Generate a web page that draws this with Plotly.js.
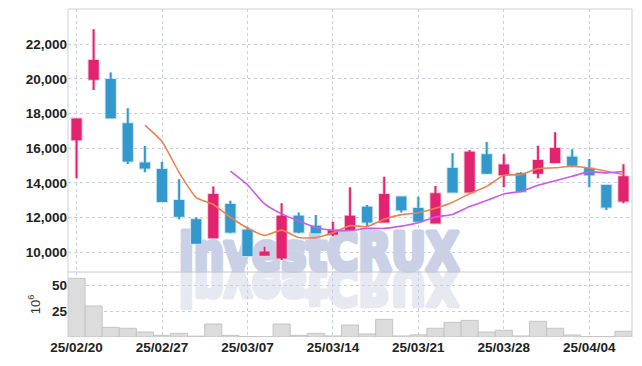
<!DOCTYPE html>
<html><head><meta charset="utf-8">
<script src="https://cdn.plot.ly/plotly-3.0.1.min.js"></script>
<style>html,body{margin:0;padding:0;background:#fff}#chart{width:642px;height:366px}</style>
</head><body><div id="chart"></div>
<script>
const dates = ["25/02/20","25/02/21","25/02/24","25/02/25","25/02/26","25/02/27","25/02/28","25/03/04","25/03/05","25/03/06","25/03/07","25/03/10","25/03/11","25/03/12","25/03/13","25/03/14","25/03/17","25/03/18","25/03/19","25/03/20","25/03/21","25/03/24","25/03/25","25/03/26","25/03/27","25/03/28","25/03/31","25/04/01","25/04/02","25/04/03","25/04/04","25/04/07","25/04/08"];
const openP  = [16520,20000,19940,17400,15130,14750,12960,11860,10870,12730,11250,9850,9690,12050,11480,11060,11330,12570,11770,13170,12500,11710,14810,13500,15610,14500,14520,14590,15210,15460,14810,13830,12980];
const highP  = [17670,22870,20380,18310,16130,15230,14210,12020,13790,12980,11480,10320,12830,12290,12150,11770,13760,12730,14360,13210,13210,13830,15710,15900,16360,15650,14620,16150,16920,15940,15380,13880,15080];
const lowP   = [14270,19360,17730,15090,14620,12960,11900,10550,10870,11100,9840,9840,9560,11100,11150,10940,11300,11520,11770,12290,11770,11710,13500,13500,14520,13750,13460,14270,15210,14900,13750,12440,12830];
const closeP = [17670,21040,17790,15290,14880,12960,12110,10550,13310,11190,9840,10000,12050,11190,11150,11250,12050,11770,13310,12480,11810,13360,13500,15750,14590,15020,13540,15270,15960,15040,14500,12630,14330];
const volume = [56.4,29.8,9.3,8.4,4.8,1.6,3.5,0.8,12.5,1.6,0.5,0.3,12.5,1.6,3.5,1.0,11.5,2.9,17.0,1.0,2.0,8.4,14.1,16.0,4.8,6.4,1.0,15.1,8.4,1.9,0.5,0.5,5.5];
const ma5  = [null,null,null,null,17334,16392,14606,13158,12762,12024,11400,10978,11278,10854,10846,11128,11538,11482,11906,12172,12284,12546,12892,13380,13802,14444,14480,14834,14876,14966,14862,14680,14492];
const ma10 = [null,null,null,null,null,null,null,null,null,14679,13896,12792,12218,11808,11435,11264,11258,11380,11380,11509,11706,12042,12187,12643,12987,13364,13513,13863,14128,14384,14653,14580,14663];
const tickDates = ["25/02/20","25/02/27","25/03/07","25/03/14","25/03/21","25/03/28","25/04/04"];
const priceTicks = [10000,12000,14000,16000,18000,20000,22000];
const volTicks = [25,50];

const RED = '#e2236f', BLUE = '#3399cc';
const FAM = "'Liberation Sans',Arial,sans-serif";
const tickFont = {family:FAM, size:13.5, color:'#222', weight:'bold'};
const gridC = '#c9cee2';

const traces = [
  {type:'bar', x:dates, y:volume, xaxis:'x', yaxis:'y', width:1,
   marker:{color:'#dcdcdc', line:{color:'#c4c4c4', width:1}}, hoverinfo:'skip'},
  {type:'candlestick', x:dates, open:openP, high:highP, low:lowP, close:closeP, xaxis:'x', yaxis:'y2',
   increasing:{line:{color:'#f6c3d6', width:3.6}, fillcolor:'#f6c3d6'},
   decreasing:{line:{color:'#c2e0f0', width:3.6}, fillcolor:'#c2e0f0'}, whiskerwidth:0},
  {type:'candlestick', x:dates, open:openP, high:highP, low:lowP, close:closeP, xaxis:'x', yaxis:'y2',
   increasing:{line:{color:RED, width:1.8}, fillcolor:RED},
   decreasing:{line:{color:BLUE, width:1.8}, fillcolor:BLUE}, whiskerwidth:0},
  {type:'scatter', mode:'lines', x:dates, y:ma5, xaxis:'x', yaxis:'y2',
   line:{color:'#ee834f', width:1.6, shape:'spline', smoothing:0.5}},
  {type:'scatter', mode:'lines', x:dates, y:ma10, xaxis:'x', yaxis:'y2',
   line:{color:'#c95be8', width:1.6, shape:'spline', smoothing:0.5}}
];

const wmText = (fill, sy) => `<g transform="translate(0,270) scale(1,${sy})"><text x="179" y="0" font-family="DejaVu Sans" font-weight="bold" font-size="45" textLength="280" lengthAdjust="spacingAndGlyphs" fill="${fill}" stroke="${fill}" stroke-width="4.2" stroke-linejoin="round">investCRUX</text></g>`;
const svg = `<svg xmlns="http://www.w3.org/2000/svg" width="642" height="366" viewBox="0 0 642 366">${wmText('#e6e9f2', -1.12)}${wmText('#cad1e6', 1.15)}</svg>`;
const svgURI = 'data:image/svg+xml;charset=utf-8,' + encodeURIComponent(svg);

const W = 564, H = 328;
const split = 65/328;
const layout = {
  width:642, height:366, margin:{l:68, r:10, t:9, b:29},
  paper_bgcolor:'#fff', plot_bgcolor:'#fff', showlegend:false,
  xaxis:{type:'category', categoryorder:'array', categoryarray:dates, range:[-0.5,32.5],
    tickvals:tickDates, ticktext:tickDates, showgrid:true, gridcolor:gridC, griddash:'dot', gridwidth:1,
    tickfont:tickFont, ticks:'', showline:false, zeroline:false, rangeslider:{visible:false}, anchor:'y', fixedrange:true},
  yaxis:{domain:[0, split], range:[0,62.5], tickvals:volTicks, showgrid:true, gridcolor:gridC, griddash:'dot',
    tickfont:tickFont, zeroline:false, ticks:'', title:{text:'10<sup>6</sup>', font:{family:FAM, size:13, color:'#333'}, standoff:8}},
  yaxis2:{domain:[split,1], range:[8864,24036], tickvals:priceTicks, tickformat:',d', showgrid:true, gridcolor:gridC, griddash:'dot',
    tickfont:tickFont, zeroline:false, ticks:''},
  bargap:0,
  images:[{source:svgURI, xref:'paper', yref:'paper', x:-68/W, y:1+9/H, sizex:642/W, sizey:366/H, sizing:'stretch', xanchor:'left', yanchor:'top', layer:'below'}],
  shapes:[
    {type:'line', xref:'paper', yref:'paper', x0:0, x1:0, y0:0, y1:1, line:{color:'#cfd1d8', width:1}},
    {type:'line', xref:'paper', yref:'paper', x0:1, x1:1, y0:0, y1:1, line:{color:'#cfd1d8', width:1}},
    {type:'line', xref:'paper', yref:'paper', x0:0, x1:1, y0:1, y1:1, line:{color:'#cfd1d8', width:1}},
    {type:'line', xref:'paper', yref:'paper', x0:0, x1:1, y0:split, y1:split, line:{color:'#c8c8cc', width:1}}
  ]
};
Plotly.newPlot('chart', traces, layout, {displayModeBar:false, staticPlot:true});
</script></body></html>
